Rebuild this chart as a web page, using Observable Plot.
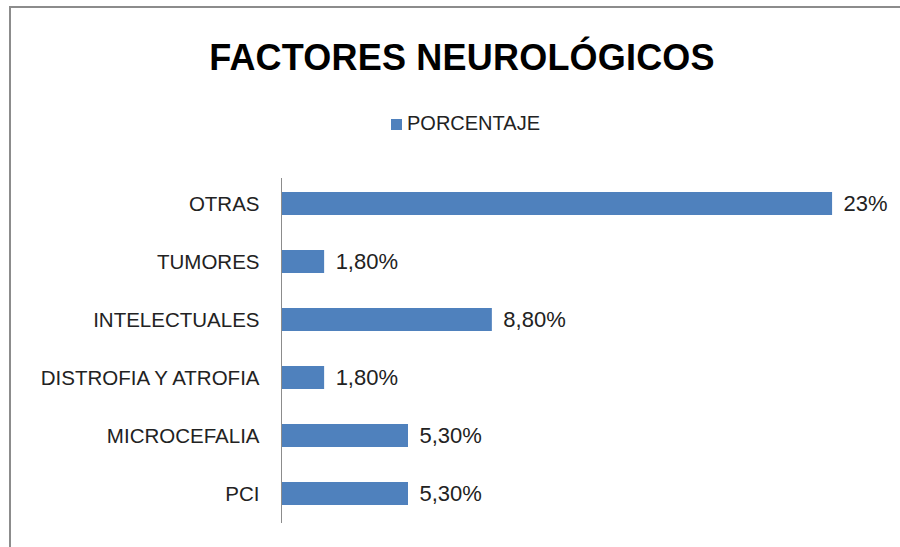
<!DOCTYPE html>
<html><head><meta charset="utf-8">
<script src="https://cdn.jsdelivr.net/npm/d3@7"></script>
<script src="https://cdn.jsdelivr.net/npm/@observablehq/plot@0.6"></script>
<style>
html,body{margin:0;padding:0;background:#fff;overflow:hidden;}
#wrap{position:relative;width:900px;height:547px;overflow:hidden;font-family:"Liberation Sans",Arial,sans-serif;}
#frame{position:absolute;left:9px;top:6px;width:1000px;height:1000px;border:2px solid #8c8c8c;}
#title{position:absolute;left:0;width:924px;top:40px;line-height:36px;text-align:center;font-weight:bold;font-size:36px;color:#000;letter-spacing:0.2px;}
#legend{position:absolute;left:391px;top:113px;line-height:20px;font-size:20px;color:#222;white-space:nowrap;}
#legend span.sw{display:inline-block;width:11px;height:11px;background:#4f81bd;margin-right:5px;vertical-align:0px;}
#chart{position:absolute;left:0;top:0;}
</style></head>
<body><div id="wrap"><div id="frame"></div>
<div id="title">FACTORES NEUROLÓGICOS</div>
<div id="legend"><span class="sw"></span>PORCENTAJE</div>
<div id="chart"></div></div>
<script>
const categories = ["OTRAS","TUMORES","INTELECTUALES","DISTROFIA Y ATROFIA","MICROCEFALIA","PCI"];
const values = [23, 1.8, 8.8, 1.8, 5.3, 5.3];
const valueLabels = ["23%","1,80%","8,80%","1,80%","5,30%","5,30%"];
const data = categories.map((c,i)=>({cat:c, v:values[i], lab:valueLabels[i]}));
const chart = Plot.plot({
  width:900, height:547,
  marginTop:178, marginBottom:27, marginLeft:281, marginRight:20,
  style:{fontFamily:'"Liberation Sans",Arial,sans-serif', fontSize:"20.5px", color:"#222", background:"transparent"},
  x:{domain:[0,25], axis:null},
  y:{domain:categories, paddingInner:0.6, paddingOuter:0.23, label:null, tickSize:0, tickPadding:22},
  marks:[
    Plot.barX(data,{y:"cat", x:"v", fill:"#4f81bd"}),
    Plot.ruleX([0],{stroke:"#8c8c8c", insetBottom:-3}),
    Plot.text(data,{y:"cat", x:"v", text:"lab", textAnchor:"start", dx:11, fontSize:22, fill:"#222"})
  ]
});
document.getElementById("chart").appendChild(chart);
</script></body></html>
